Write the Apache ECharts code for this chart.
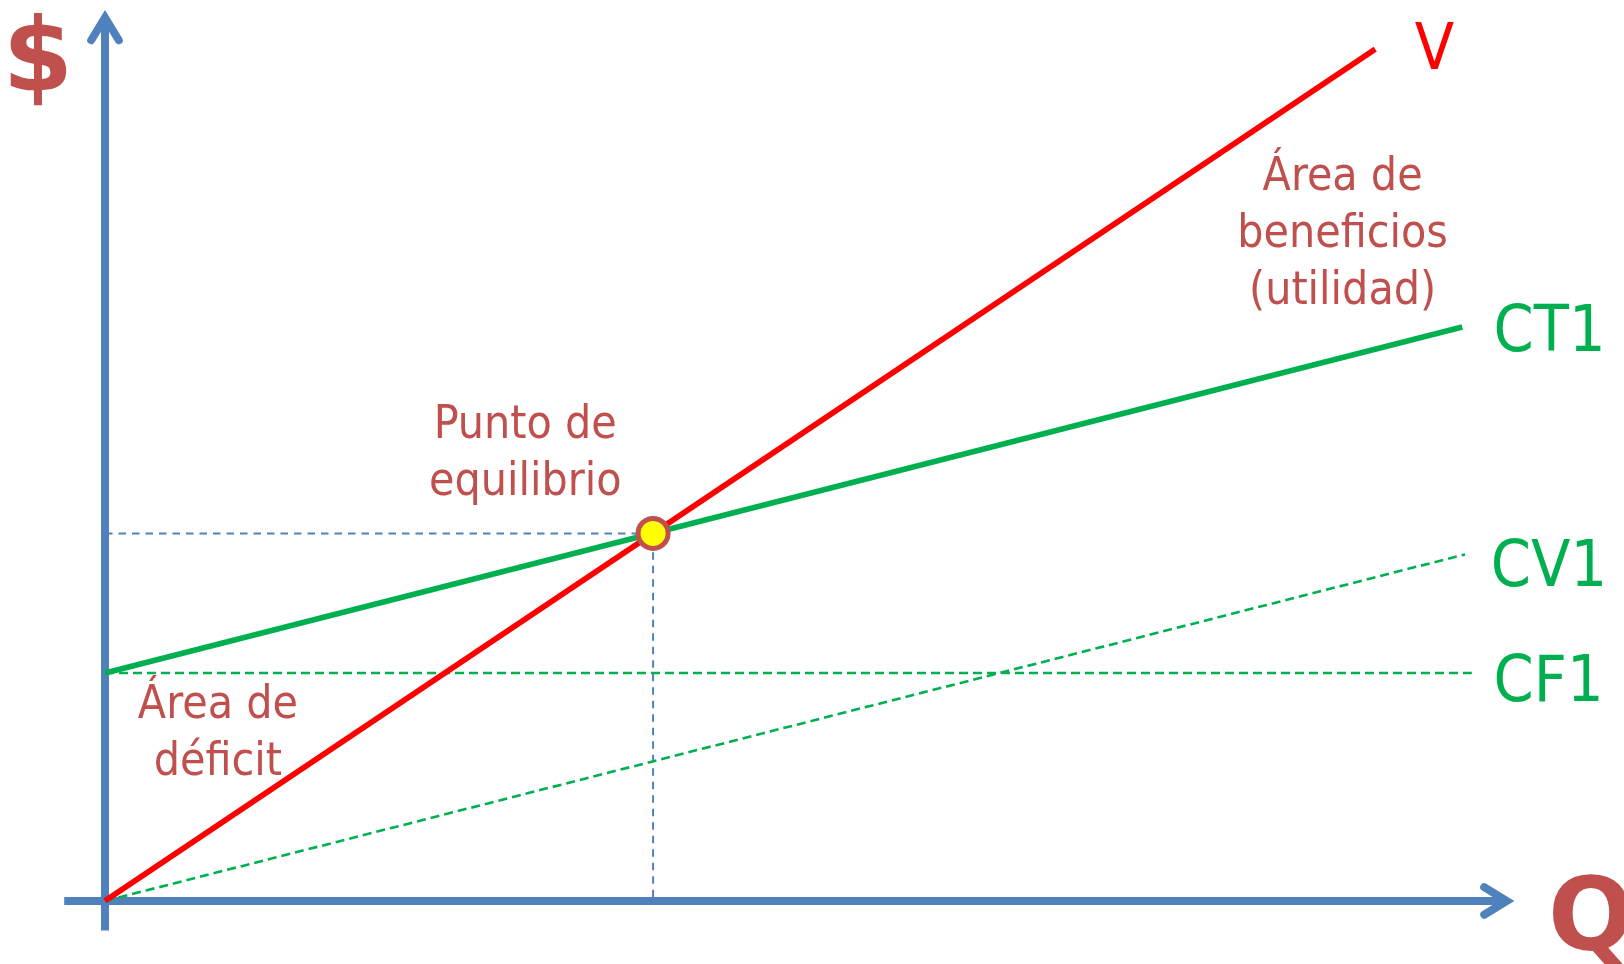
<!DOCTYPE html>
<html>
<head>
<meta charset="utf-8">
<title>Punto de equilibrio</title>
<script src="https://cdn.jsdelivr.net/npm/echarts@6/dist/echarts.min.js"></script>
<style>
  html, body { margin: 0; padding: 0; background: #ffffff; }
  #chart { width: 1624px; height: 964px; }
</style>
</head>
<body>
<div id="chart"></div>
<script>
// Break-even chart: sales (V), total cost (CT1), variable cost (CV1), fixed cost (CF1)
const ventas        = [[0, 0], [93.4, 373.6]];      // V
const costoTotal    = [[0, 100], [99.8, 251.7]];    // CT1
const costoVariable = [[0, 0], [100, 152]];         // CV1
const costoFijo     = [[0, 100], [100.5, 100]];     // CF1
const equilibrio    = [40.3, 161.2];                // break-even point (Q, $)

const nombresSeries = ['V', 'CT1', 'CV1', 'CF1'];
const notas = ['Área de\nbeneficios\n(utilidad)', 'Punto de\nequilibrio', 'Área de\ndéficit'];
const ejes = { x: 'Q', y: '$' };

const FONT = "Tahoma, 'DejaVu Sans Condensed', 'Noto Sans', sans-serif";
const FONT_BOLD = "Tahoma, 'DejaVu Sans', 'Noto Sans', sans-serif";
const BLUE = '#4F81BD';
const BROWN = '#C0504D';
const GREEN = '#00B050';
const RED = '#FF0000';

// open chevron arrow head, pointing up, used at the end of both axes
const chevron = 'path://M17.8,0 L35.01,28.07 A4,4,0,0,1,28.19,32.25 L17.8,15.32 L7.41,32.25 A4,4,0,0,1,0.59,28.07 Z';

function axisLineStyle() {
  return {
    show: true,
    onZero: true,
    symbol: ['none', chevron],
    symbolSize: [35.6, 34.2],
    symbolOffset: [0, -8.5],
    lineStyle: { color: BLUE, width: 8, cap: 'butt' }
  };
}

function plainAxis(min, max) {
  return {
    type: 'value',
    min: min, max: max,
    axisLine: axisLineStyle(),
    axisTick: { show: false },
    axisLabel: { show: false },
    splitLine: { show: false }
  };
}

// text placed at a data coordinate
function textAt(coord, text, style) {
  return {
    value: coord,
    label: Object.assign({
      show: true,
      position: 'inside',
      formatter: text,
      fontFamily: FONT
    }, style)
  };
}

const curveStyle = (color) => ({ color: color, fontSize: 64, align: 'left', verticalAlign: 'middle' });
const noteStyle = { color: BROWN, fontSize: 46, lineHeight: 57, align: 'center', verticalAlign: 'middle' };
const axisNameStyle = (align) => ({
  color: BROWN, fontFamily: FONT_BOLD, fontWeight: 'bold', fontSize: 101,
  align: align, verticalAlign: 'middle'
});

const chart = echarts.init(document.getElementById('chart'));

const option = {
  animation: false,
  backgroundColor: '#ffffff',
  grid: {
    left: 64.2, right: 118.2, top: 18.6, bottom: 33.4,
    containLabel: false,
    outerBoundsMode: 'none'
  },
  xAxis: plainAxis(-3, 103),
  yAxis: plainAxis(-13, 387),
  series: [
    {
      // guide lines from the break-even point to both axes
      type: 'line',
      data: [[0, equilibrio[1]], equilibrio, [equilibrio[0], 0]],
      symbol: 'none',
      silent: true,
      z: 1,
      lineStyle: { color: BLUE, width: 2, type: [7.5, 6] }
    },
    {
      name: nombresSeries[3],
      type: 'line',
      data: costoFijo,
      symbol: 'none',
      z: 2,
      lineStyle: { color: GREEN, width: 2.6, type: [9, 5] }
    },
    {
      name: nombresSeries[2],
      type: 'line',
      data: costoVariable,
      symbol: 'none',
      z: 2,
      lineStyle: { color: GREEN, width: 2.6, type: [9, 5] }
    },
    {
      name: nombresSeries[1],
      type: 'line',
      data: costoTotal,
      symbol: 'none',
      z: 3,
      lineStyle: { color: GREEN, width: 5.7 }
    },
    {
      name: nombresSeries[0],
      type: 'line',
      data: ventas,
      symbol: 'none',
      z: 4,
      lineStyle: { color: RED, width: 5.7 }
    },
    {
      // break-even marker
      type: 'scatter',
      data: [equilibrio],
      symbol: 'circle',
      symbolSize: 30,
      z: 6,
      itemStyle: { color: '#FFFF00', borderColor: BROWN, borderWidth: 5, opacity: 1 }
    },
    {
      // curve names, area notes and axis names
      type: 'scatter',
      clip: false,
      z: 5,
      symbolSize: 1,
      itemStyle: { color: 'rgba(0,0,0,0)', opacity: 1 },
      silent: true,
      data: [
        textAt([96.3, 372.1], nombresSeries[0], curveStyle(RED)),
        textAt([102.1, 248.7], nombresSeries[1], curveStyle(GREEN)),
        textAt([101.9, 145.6], nombresSeries[2], curveStyle(GREEN)),
        textAt([102.1, 95.2], nombresSeries[3], curveStyle(GREEN)),
        textAt([91.0, 292.0], notas[0], noteStyle),
        textAt([30.9, 196.0], notas[1], noteStyle),
        textAt([8.3, 73.0], notas[2], noteStyle),
        textAt([-2.35, 367.1], ejes.y, axisNameStyle('right')),
        textAt([106.1, -9.9], ejes.x, axisNameStyle('left'))
      ]
    }
  ]
};

chart.setOption(option);
</script>
</body>
</html>
